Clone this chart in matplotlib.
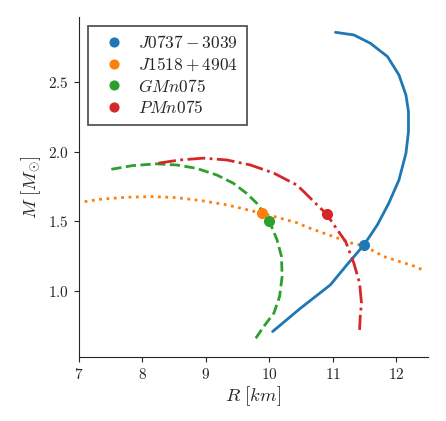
import numpy as np
import matplotlib
matplotlib.use('Agg')
import matplotlib.pyplot as plt
import seaborn as sns

sns.set_style('ticks')
plt.rcParams['font.family'] = 'serif'
plt.rcParams['font.serif'] = ['cmr10']
plt.rcParams['mathtext.fontset'] = 'cm'
plt.rcParams['axes.formatter.use_mathtext'] = True

# mass-radius curves
r_j0737 = [10.05, 10.49, 10.96, 11.22, 11.49, 11.70, 11.88, 12.04, 12.15, 12.19, 12.19,
           12.15, 12.04, 11.86, 11.59, 11.33, 11.04]
m_j0737 = [0.705, 0.873, 1.041, 1.185, 1.329, 1.473, 1.629, 1.796, 1.988, 2.144, 2.288,
           2.408, 2.552, 2.684, 2.78, 2.84, 2.859]

r_j1518 = [7.09, 7.35, 7.75, 8.14, 8.54, 8.93, 9.33, 9.70, 9.88, 10.46, 10.57, 11.30,
           11.49, 11.80, 12.30, 12.41]
m_j1518 = [1.640, 1.658, 1.672, 1.676, 1.669, 1.647, 1.617, 1.576, 1.557, 1.485, 1.46, 1.341,
           1.322, 1.245, 1.173, 1.149]

r_gm = [7.51, 7.85, 8.22, 8.54, 8.85, 9.17, 9.43, 9.64, 9.80, 9.99, 10.12, 10.19, 10.20,
        10.16, 10.07, 9.91, 9.75]
m_gm = [1.873, 1.90, 1.912, 1.904, 1.88, 1.832, 1.773, 1.70, 1.629, 1.509, 1.365, 1.245, 1.10,
        0.957, 0.837, 0.741, 0.633]

r_pm = [8.25, 8.59, 8.96, 9.33, 9.70, 10.07, 10.43, 10.53, 10.70, 10.90, 11.07, 11.20, 11.33,
        11.42, 11.45, 11.43, 11.42]
m_pm = [1.917, 1.94, 1.953, 1.94, 1.904, 1.845, 1.76, 1.717, 1.64, 1.55, 1.437, 1.353, 1.197,
        1.053, 0.909, 0.813, 0.717]

# marked points
names = [r'$J0737-3039$', r'$J1518+4904$', r'$GMn075$', r'$PMn075$']
pt_r = [11.49, 9.88, 10.0, 10.91]
pt_m = [1.329, 1.561, 1.50, 1.552]

cols = ['C0', 'C1', 'C2', 'C3']

fig = plt.figure(figsize=(4.46, 4.21), dpi=100)
ax = fig.add_axes([0.177, 0.152, 0.783, 0.808])

ax.plot(r_j0737, m_j0737, '-', c=cols[0], lw=2)
ax.plot(r_j1518, m_j1518, ':', c=cols[1], lw=2)
ax.plot(r_gm, m_gm, '--', c=cols[2], lw=2)
ax.plot(r_pm, m_pm, '-.', c=cols[3], lw=2)

for i in range(len(names)):
    ax.plot(pt_r[i], pt_m[i], 'o', c=cols[i], ms=7, ls='none', label=names[i])

ax.set_xlim(7, 12.5)
ax.set_xlabel(r'$R\ [km]$', fontsize=13.5, labelpad=2)
ax.set_ylabel(r'$M\ [M_{\odot}]$', fontsize=13.5, labelpad=4)
ax.tick_params(labelsize=11)

leg = ax.legend(loc='upper left', fancybox=False, fontsize=12.5, numpoints=1,
                labelspacing=0.25, borderpad=0.5, handletextpad=0.4, markerscale=0.9)
leg.get_frame().set_edgecolor('#222222')
leg.get_frame().set_linewidth(1.25)

sns.despine(ax=ax)

fig.savefig('out.png', dpi=100)
